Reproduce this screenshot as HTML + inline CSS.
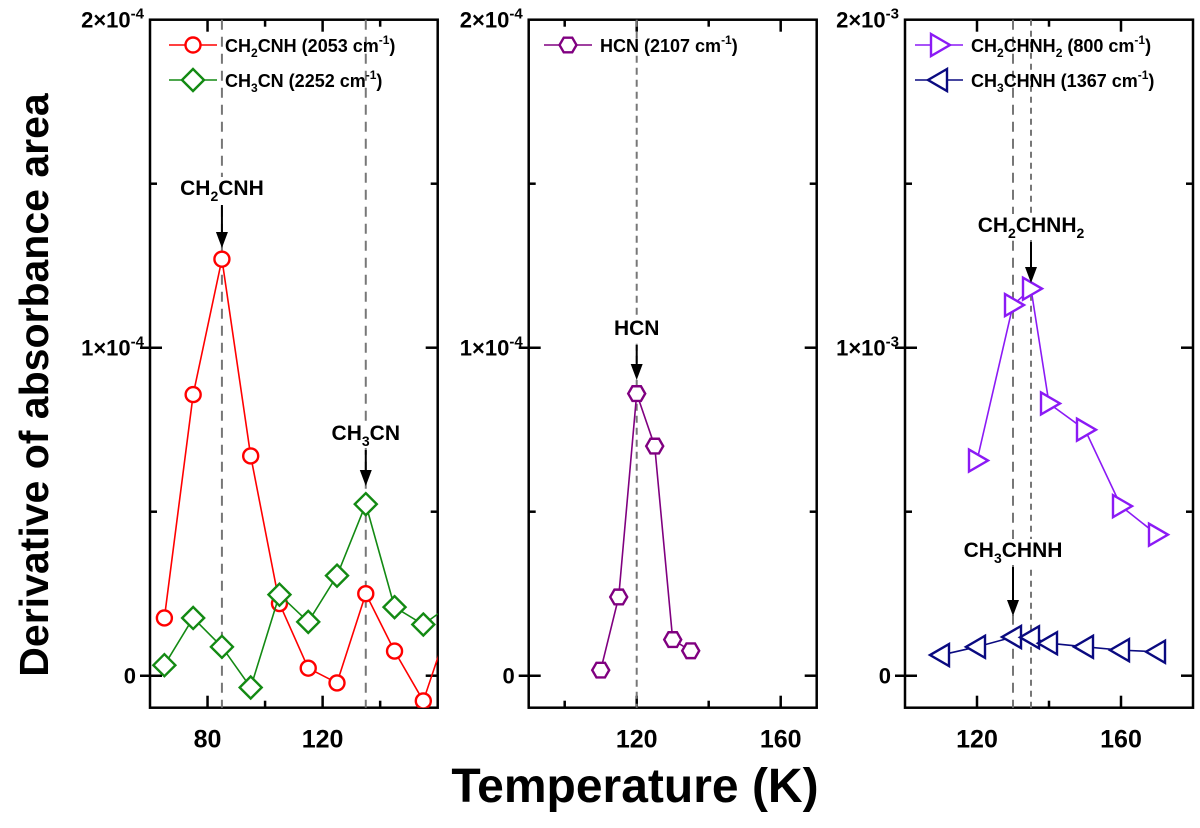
<!DOCTYPE html>
<html><head><meta charset="utf-8">
<style>
html,body{margin:0;padding:0;background:#fff;}
svg{display:block;font-family:"Liberation Sans",Arial,sans-serif;}
</style></head>
<body>
<svg id="chart" width="1200" height="828" viewBox="0 0 1200 828" xmlns="http://www.w3.org/2000/svg">
<text x="48" y="385" transform="rotate(-90 48 385)" text-anchor="middle" font-size="41" font-weight="bold">Derivative of absorbance area</text>
<text x="635" y="802" text-anchor="middle" font-size="48" font-weight="bold">Temperature (K)</text>
</svg>
<script>
// ---- data ----
const p1Temps = [65,75,85,95,105,115,125,135,145,155,165];
const ch2cnhVals = [1.76,8.57,12.7,6.7,2.2,0.23,-0.22,2.5,0.75,-0.77,1.85];   // x1e-5
const ch3cnVals = [0.32,1.76,0.88,-0.36,2.47,1.64,3.05,5.23,2.09,1.56,2.2];   // x1e-5
const hcnTemps = [110,115,120,125,130,135];
const hcnVals = [0.17,2.4,8.6,7.0,1.1,0.76];                                   // x1e-5
const p3PurpleTemps = [120,130,135,140,150,160,170];
const ch2chnh2Vals = [6.56,11.3,11.8,8.3,7.5,5.17,4.3];                         // x1e-4
const p3BlueTemps = [110,120,130,135,140,150,160,170];
const ch3chnhVals = [0.63,0.88,1.18,1.17,0.99,0.88,0.78,0.73];                  // x1e-4
const p1XTicks = [80,120];
const p2XTicks = [120,160];
const p3XTicks = [120,160];

const NS = "http://www.w3.org/2000/svg";
const svg = document.getElementById('chart');
function mk(tag, attrs, parent){
  const e = document.createElementNS(NS, tag);
  for (const k in attrs) e.setAttribute(k, attrs[k]);
  (parent||svg).appendChild(e);
  return e;
}
const TOP = 19.7, ZERO = 675.7, BOT = 707.7, PXU = 328;

function makePanel(name, x0, x1, tmin, tmax, xticks, unit){
  const g = mk('g', {});
  
  
  const sx = t => x0 + (t - tmin) / (tmax - tmin) * (x1 - x0);
  const sy = v => ZERO - v * PXU;
  const cid = name + '-clip';
  const cp = mk('clipPath', {id: cid}, g);
  mk('rect', {x: x0, y: TOP, width: x1 - x0, height: BOT - TOP}, cp);
  const fr = mk('rect', {x: x0, y: TOP, width: x1 - x0, height: BOT - TOP, fill: 'none', stroke: '#000', 'stroke-width': 2.5}, g);
  
  
  for (let t = Math.ceil(tmin / 20) * 20; t <= tmax; t += 20) {
    const maj = xticks.includes(t);
    const L = maj ? 12 : 7;
    if (t === tmin || t === tmax) continue;
    mk('line', {x1: sx(t), x2: sx(t), y1: BOT, y2: BOT - L, stroke: '#000', 'stroke-width': 2.5}, g);
    mk('line', {x1: sx(t), x2: sx(t), y1: TOP, y2: TOP + L, stroke: '#000', 'stroke-width': 2.5}, g);
    if (maj) {
      const tl = mk('text', {x: sx(t), y: BOT + 40, 'text-anchor': 'middle', 'font-size': 25, 'font-weight': 'bold'}, g);
      tl.textContent = t;
      
      
    }
  }
  [0, 0.5, 1, 1.5, 2].forEach(v => {
    const y = sy(v);
    const maj = v % 1 === 0;
    const L = maj ? 12 : 7;
    if (v !== 2) {
      mk('line', {x1: x0 - (maj ? 10 : 0), x2: x0 + L, y1: y, y2: y, stroke: '#000', 'stroke-width': 2.5}, g);
      mk('line', {x1: x1, x2: x1 - L, y1: y, y2: y, stroke: '#000', 'stroke-width': 2.5}, g);
    }
    if (maj) {
      const tl = mk('text', {x: x0 - (v === 0 ? 14 : 6), y: y + 8, 'text-anchor': 'end', 'font-size': 22, 'font-weight': 'bold'}, g);
      if (v === 0) tl.textContent = '0';
      else {
        tl.appendChild(document.createTextNode(v + '×10'));
        const s = mk('tspan', {dy: -9, 'font-size': 15}, tl);
        s.textContent = '-' + unit;
      }
      
      
    }
  });
  return {g, sx, sy, cid};
}

function dashed(P, t, dash){
  const l = mk('line', {x1: P.sx(t), x2: P.sx(t), y1: TOP, y2: BOT, stroke: '#777', 'stroke-width': 2, 'stroke-dasharray': dash}, P.g);
  
  
}

function marker(parent, type, x, y, color){
  const r = 7.5;
  let m;
  if (type === 'circle') m = mk('circle', {cx: x, cy: y, r: r}, parent);
  else if (type === 'diamond') m = mk('polygon', {points: `${x},${y-11} ${x+11},${y} ${x},${y+11} ${x-11},${y}`}, parent);
  else if (type === 'hex') {
    let pts = [];
    for (let i = 0; i < 6; i++) { const a = Math.PI / 3 * i; pts.push((x + 8.5 * Math.cos(a)) + ',' + (y + 8.5 * Math.sin(a))); }
    m = mk('polygon', {points: pts.join(' ')}, parent);
  }
  else if (type === 'right') m = mk('polygon', {points: `${x-8},${y-11} ${x+11},${y} ${x-8},${y+11}`}, parent);
  else if (type === 'left') m = mk('polygon', {points: `${x+8},${y-11} ${x-11},${y} ${x+8},${y+11}`}, parent);
  m.setAttribute('fill', '#fff');
  m.setAttribute('stroke', color);
  m.setAttribute('stroke-width', 2.4);
  return m;
}

function series(P, name, temps, vals, color, type){
  const g = mk('g', {'clip-path': `url(#${P.cid})`}, P.g);
  
  
  const pts = temps.map((t, i) => [P.sx(t), P.sy(vals[i])]);
  const pl = mk('polyline', {points: pts.map(p => p.join(',')).join(' '), fill: 'none', stroke: color, 'stroke-width': 1.6}, g);
  
  
  pts.forEach(p => {
    const m = marker(g, type, p[0], p[1], color);
    
    
  });
}

function annotate(P, name, t, yText, yTip, parts){
  const g = mk('g', {}, P.g);
  
  
  const x = P.sx(t);
  const txt = mk('text', {x: x, y: yText, 'text-anchor': 'middle', 'font-size': 21, 'font-weight': 'bold'}, g);
  const bb = {w: parts.join('').length * 13};
  mk('rect', {x: x - bb.w / 2, y: yText - 18, width: bb.w, height: 26, fill: '#fff'}, g);
  g.appendChild(txt);
  parts.forEach((p, i) => {
    const s = mk('tspan', i % 2 === 1 ? {dy: 6, 'font-size': 14} : {dy: i > 0 ? -6 : 0}, txt);
    s.textContent = p;
  });
  mk('line', {x1: x, x2: x, y1: yText + 10, y2: yTip - 14, stroke: '#000', 'stroke-width': 2}, g);
  mk('polygon', {points: `${x-6},${yTip-16} ${x+6},${yTip-16} ${x},${yTip}`, fill: '#000'}, g);
}

function legendRow(P, name, x, y, color, type, parts){
  const g = mk('g', {}, P.g);
  
  
  mk('line', {x1: x, x2: x + 48, y1: y, y2: y, stroke: color, 'stroke-width': 1.6}, g);
  marker(g, type, x + 24, y, color);
  const txt = mk('text', {x: x + 56, y: y + 7, 'font-size': 18, 'font-weight': 'bold'}, g);
  parts.forEach(p => {
    const s = mk('tspan', p.sub ? {dy: 5, 'font-size': 12} : p.sup ? {dy: -8, 'font-size': 12} : {dy: p.back || 0}, txt);
    s.textContent = p.t;
  });
}

const P1 = makePanel('panel-ch2cnh-ch3cn', 150, 437.7, 60, 160, p1XTicks, 4);
dashed(P1, 85, '10,7'); dashed(P1, 135, '10,7');
series(P1, 'series-ch2cnh', p1Temps, ch2cnhVals.map(v => v / 10), '#ff0000', 'circle');
series(P1, 'series-ch3cn', p1Temps, ch3cnVals.map(v => v / 10), '#138a13', 'diamond');
annotate(P1, 'annotation-ch2cnh', 85, 195, 248, ['CH','2','CNH']);
annotate(P1, 'annotation-ch3cn', 135, 440, 486, ['CH','3','CN']);
legendRow(P1, 'legend-ch2cnh', 169, 45, '#ff0000', 'circle', [{t:'CH'},{t:'2',sub:1},{t:'CNH (2053 cm',back:-5},{t:'-1',sup:1},{t:')',back:8}]);
legendRow(P1, 'legend-ch3cn', 169, 80, '#138a13', 'diamond', [{t:'CH'},{t:'3',sub:1},{t:'CN (2252 cm',back:-5},{t:'-1',sup:1},{t:')',back:8}]);

const P2 = makePanel('panel-hcn', 528.7, 816.7, 90, 170, p2XTicks, 4);
dashed(P2, 120, '7,5');
series(P2, 'series-hcn', hcnTemps, hcnVals.map(v => v / 10), '#800080', 'hex');
annotate(P2, 'annotation-hcn', 120, 335, 380, ['HCN']);
legendRow(P2, 'legend-hcn', 544, 45, '#800080', 'hex', [{t:'HCN (2107 cm'},{t:'-1',sup:1},{t:')',back:8}]);

const P3 = makePanel('panel-ch2chnh2-ch3chnh', 905, 1193, 100, 180, p3XTicks, 3);
dashed(P3, 130, '10,7'); dashed(P3, 135, '6,5');
series(P3, 'series-ch2chnh2', p3PurpleTemps, ch2chnh2Vals.map(v => v / 10), '#8b1af5', 'right');
series(P3, 'series-ch3chnh', p3BlueTemps, ch3chnhVals.map(v => v / 10), '#0a0a80', 'left');
annotate(P3, 'annotation-ch2chnh2', 135, 232, 283, ['CH','2','CHNH','2']);
annotate(P3, 'annotation-ch3chnh', 130, 557, 616, ['CH','3','CHNH']);
legendRow(P3, 'legend-ch2chnh2', 915, 45, '#8b1af5', 'right', [{t:'CH'},{t:'2',sub:1},{t:'CHNH',back:-5},{t:'2',sub:1},{t:' (800 cm',back:-5},{t:'-1',sup:1},{t:')',back:8}]);
legendRow(P3, 'legend-ch3chnh', 915, 80, '#0a0a80', 'left', [{t:'CH'},{t:'3',sub:1},{t:'CHNH (1367 cm',back:-5},{t:'-1',sup:1},{t:')',back:8}]);
</script>
</body></html>
